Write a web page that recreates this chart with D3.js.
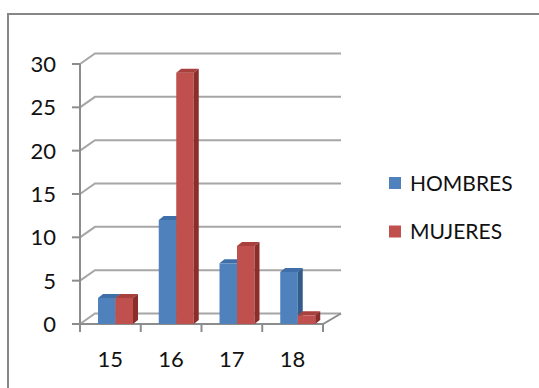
<!DOCTYPE html>
<html>
<head>
<meta charset="utf-8">
<script src="https://cdn.jsdelivr.net/npm/d3@7"></script>
<style>
  html, body { margin: 0; padding: 0; background: #fff; }
  svg { display: block; }
  text { font-family: Lato, "Open Sans", sans-serif; fill: #111; }
</style>
</head>
<body>
<svg id="chart" width="539" height="388"></svg>
<script>
// Age groups and counts per group
const categories = ["15", "16", "17", "18"];
const seriesNames = ["HOMBRES", "MUJERES"];
const hombres = [3, 12, 7, 6];
const mujeres = [3, 29, 9, 1];
const yTicks = [0, 5, 10, 15, 20, 25, 30];

const seriesValues = [hombres, mujeres];
const faceColors = [
  { front: "#4f81bd", top: "#3f6fa9", side: "#345b8c" },
  { front: "#c0504d", top: "#a8403d", side: "#8a2e2c" }
];

const svg = d3.select("#chart");
const W = 539, H = 388;

// chart frame (runs off the right and bottom edges)
svg.append("rect")
  .attr("x", 8).attr("y", 14)
  .attr("width", W + 20).attr("height", H + 20)
  .attr("fill", "#fff")
  .attr("stroke", "#878787")
  .attr("stroke-width", 2);

// plot geometry
const plotLeft = 80, plotRight = 323, plotBottom = 324, plotTop = 64;
const depthX = 15, depthY = -10.5;     // wall depth
const backRight = plotRight + 18;
const barDX = 5, barDY = -4;           // bar depth

const x0 = d3.scaleBand().domain(categories).range([plotLeft, plotRight]).padding(0);
const x1 = d3.scaleBand().domain(seriesNames).range([18, 53]).padding(0);
const y = d3.scaleLinear().domain([0, 30]).range([plotBottom, plotTop]);

const gridColor = "#a6a6a6";
const axisColor = "#8c8c8c";

// back wall gridlines with their diagonal run from the front axis
const grid = svg.append("g").attr("fill", "none").attr("stroke", gridColor).attr("stroke-width", 2);
yTicks.forEach(t => {
  const yy = y(t);
  grid.append("path")
    .attr("d", `M${plotLeft},${yy} L${plotLeft + depthX},${yy + depthY} L${backRight},${yy + depthY}`);
});

// floor front edge and right edge
const axes = svg.append("g").attr("fill", "none").attr("stroke", axisColor).attr("stroke-width", 2);
axes.append("path").attr("d", `M${plotLeft - 8},${plotBottom} L${plotRight},${plotBottom} L${backRight},${plotBottom + depthY}`);

// vertical value axis with ticks
axes.append("path").attr("d", `M${plotLeft},${plotTop} L${plotLeft},${plotBottom + 8}`);
yTicks.forEach(t => {
  axes.append("path").attr("d", `M${plotLeft - 8},${y(t)} L${plotLeft},${y(t)}`);
});

// category boundary ticks
const boundaries = categories.map(c => x0(c)).concat([plotRight]);
boundaries.forEach(bx => {
  axes.append("path").attr("d", `M${bx},${plotBottom} L${bx},${plotBottom + 8}`);
});

// 3D bars: front face, top face, side face
const bars = svg.append("g");
seriesNames.forEach((name, si) => {
  const col = faceColors[si];
  categories.forEach((c, ci) => {
    const v = seriesValues[si][ci];
    const bx = x0(c) + x1(name);
    const bw = x1.bandwidth();
    const yt = y(v), yb = y(0);
    const g = bars.append("g");
    g.append("rect")
      .attr("x", bx).attr("y", yt)
      .attr("width", bw).attr("height", yb - yt)
      .attr("fill", col.front);
    g.append("path")
      .attr("d", `M${bx},${yt} L${bx + barDX},${yt + barDY} L${bx + bw + barDX},${yt + barDY} L${bx + bw},${yt} Z`)
      .attr("fill", col.top);
    g.append("path")
      .attr("d", `M${bx + bw},${yt} L${bx + bw + barDX},${yt + barDY} L${bx + bw + barDX},${yb + barDY} L${bx + bw},${yb} Z`)
      .attr("fill", col.side);
  });
});

// value axis labels
svg.append("g").selectAll("text").data(yTicks).join("text")
  .attr("x", 56)
  .attr("y", d => y(d))
  .attr("dy", "0.36em")
  .attr("text-anchor", "end")
  .attr("font-size", 22)
  .text(d => d);

// category labels
svg.append("g").selectAll("text").data(categories).join("text")
  .attr("x", d => x0(d) + x0.bandwidth() / 2)
  .attr("y", 367)
  .attr("text-anchor", "middle")
  .attr("font-size", 22)
  .text(d => d);

// legend
const legend = svg.append("g");
seriesNames.forEach((name, i) => {
  const ly = 183 + i * 48.5;
  legend.append("rect")
    .attr("x", 389).attr("y", ly - 6)
    .attr("width", 12).attr("height", 12)
    .attr("fill", faceColors[i].front);
  legend.append("text")
    .attr("x", 410).attr("y", ly)
    .attr("dy", "0.36em")
    .attr("font-size", 21)
    .text(name);
});
</script>
</body>
</html>
